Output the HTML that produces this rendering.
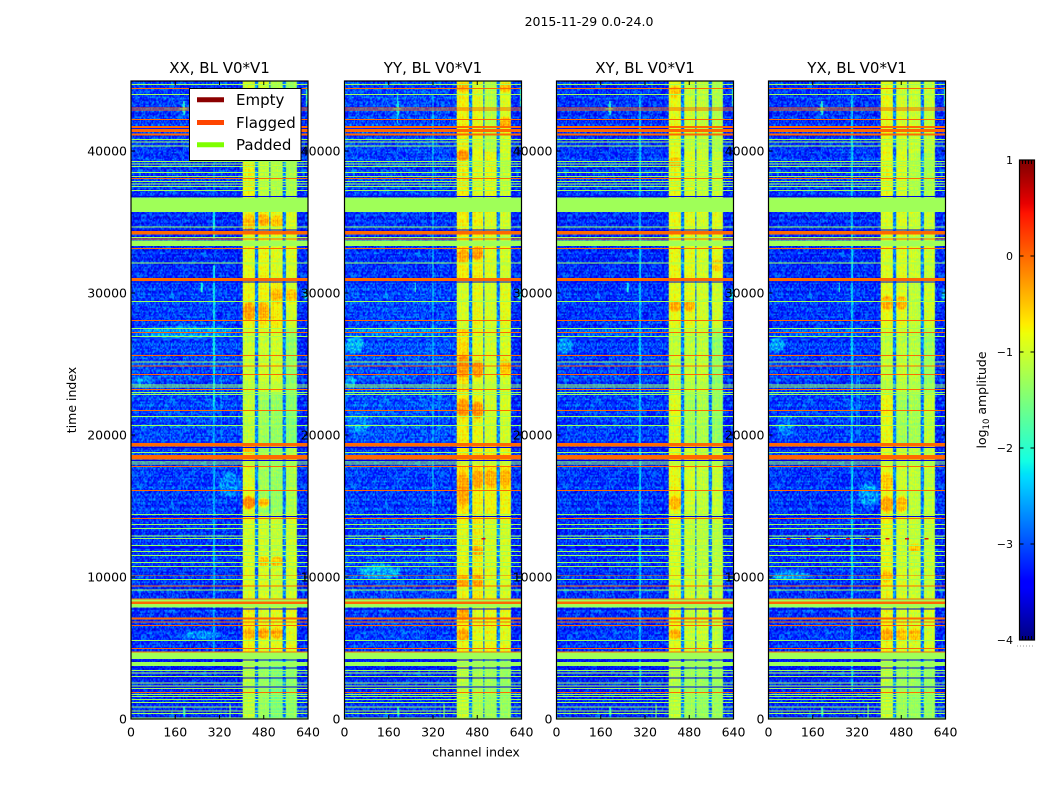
<!DOCTYPE html>
<html>
<head>
<meta charset="utf-8">
<title>2015-11-29 0.0-24.0</title>
<style>
html,body{margin:0;padding:0;background:#fff;width:1050px;height:800px;overflow:hidden}
#stage{position:relative;width:1050px;height:800px;background:#fff}
#stage canvas{position:absolute;display:block}
#overlay{position:absolute;left:0;top:0}
text{font-family:"DejaVu Sans","Liberation Sans",sans-serif;fill:#000}
</style>
</head>
<body>
<div id="stage">
<svg id="overlay" width="1050" height="800" viewBox="0 0 1050 800"></svg>
</div>
<script>
// ---------- chart data (time index / channel index / log10 amplitude) ----------
const panelTitles = ["XX, BL V0*V1", "YY, BL V0*V1", "XY, BL V0*V1", "YX, BL V0*V1"];
const xTicks = [0, 160, 320, 480, 640];
const yTicks = [0, 10000, 20000, 30000, 40000];
const colorbarTicks = [-4, -3, -2, -1, 0, 1];
const legendLabels = ["Empty", "Flagged", "Padded"];
const legendColors = ["#8b0000", "#ff4500", "#7fff00"];

const flaggedLevel = 0;
const paddedLevel = -1.285;
const timeMax = 44930;
const channelMax = 640;

// flagged rows: [centre time, width]
const flaggedRows = [[44400,70],[43030,70],[42890,70],[42220,70],[41689,140],[41442,230],[41146,140],[38048,70],
[34245,230],[33802,70],[33147,70],[30950,210],[28076,70],[27203,70],[25612,70],[24858,70],[24274,70],[23217,70],
[21739,70],[19316,230],[18436,300],[17795,70],[16105,70],[14119,70],[10119,50],[9366,70],[8465,70],[8190,150],
[7091,140],[6831,70],[6598,70],[4979,70],[4718,70],[1880,70]];
// padded blocks: [start time, end time]
const paddedBlocks = [[35700,36740],[33310,33680],[8290,8430],[7840,8100],[4225,4670],[3750,4015],[0,90]];
// padded single rows: centre time
const paddedLines = [44700,43990,40823,40632,40351,39273,39083,38893,38499,38189,37837,37675,37485,37231,34647,33921,
32112,29414,27513,26950,25140,23520,23379,23006,22837,21316,20682,18781,18098,17957,14387,13711,13401,12887,12725,
12232,11809,11528,11035,10753,9838,9084,5542,3429,3239,3007,2535,2324,2134,1711,1570,1359,1176,845,563,373];
// low rows: centre time
const darkRows = [36810,34420,30780,19120,18190,14260,7740,4150,3600,2900,2240];

// time segments and channel segments
const timeEdges = [0,4700,8000,14500,19400,23000,27500,31000,36000,40000,44930];
const bandChannels = [[405,448],[459,499],[506,550],[559,600]];
const gapChannels = [[448,459],[499,506],[550,559]];
const gapLevel = -2.75;
const rightLevel = -3.2;

// band amplitude per time segment, per polarisation
const bandLevelsXX = [[-1.1,-1.35,-1.55,-1.4],[-.8,-.95,-.9,-.9],[-.95,-1,-1.05,-1],[-.95,-1.3,-1.35,-1.2],[-1.1,-1.3,-1.35,-1.45],[-1.05,-1.05,-1,-1.35],[-.85,-.8,-.75,-1],[-.9,-.85,-.95,-.95],[-.8,-1.1,-1.15,-1.2],[-1,-1,-1.2,-1.3]];
const bandLevelsYY = [[-1.05,-1.2,-1.3,-1.35],[-.85,-.9,-.85,-.9],[-.85,-.75,-.95,-.95],[-.7,-.75,-.8,-.8],[-.75,-.85,-1,-1],[-.65,-.9,-1,-.95],[-1,-.85,-1,-.9],[-.75,-.8,-.95,-1],[-.75,-.9,-.85,-1.05],[-.8,-.9,-1.15,-.95]];
const bandLevelsXY = [[-1.1,-1.3,-1.35,-1.3],[-.9,-1.05,-1.05,-1.1],[-.95,-1.05,-1.1,-1.1],[-.85,-1,-1.1,-1.05],[-.95,-1.25,-1.2,-1.35],[-1.1,-1.1,-1.1,-1.35],[-.9,-.9,-1,-1],[-.85,-.9,-1,-.9],[-.85,-.95,-1.05,-1.05],[-.9,-1.05,-1.1,-1.2]];
const bandLevelsYX = [[-1.05,-1.3,-1.35,-1.35],[-.85,-.95,-1,-1],[-.85,-1,-1.05,-1.05],[-.9,-1.05,-1.1,-1.1],[-.85,-1.25,-1.25,-1.1],[-1.1,-1.1,-1.15,-1.3],[-.9,-.95,-1.1,-1],[-.95,-.95,-1.05,-1.05],[-.85,-.95,-1.15,-1.2],[-.9,-1,-1.05,-1.1]];

// off-band background per time segment
const backgroundXX = [-3.25,-3.15,-3.15,-3.1,-3.05,-3.05,-3.1,-3.2,-3.15,-3.1];
const backgroundYY = [-3.2,-3.1,-3.05,-3.1,-3,-3,-3.05,-3.15,-3.1,-3.05];
const backgroundXY = [-3.25,-3.15,-3.15,-3.15,-3.1,-3.1,-3.15,-3.2,-3.15,-3.15];
const backgroundYX = [-3.25,-3.15,-3.15,-3.15,-3.1,-3.1,-3.15,-3.2,-3.15,-3.15];

// hot patches: [band, start time, end time, level]
const hotXX = [[0,28000,29500,-.35],[1,28000,29500,-.4],[2,29300,30400,-.45],[3,29300,30400,-.5],[0,14750,15800,-.2],[1,14900,15600,-.45],[0,34300,35700,-.45],[1,34700,35700,-.4],[2,34600,35600,-.5],[0,5600,6500,-.4],[1,5600,6500,-.35],[2,5600,6500,-.4],[0,18700,19300,-.4],[1,10700,11500,-.5],[2,10700,11500,-.5]];
const hotYY = [[0,32100,33200,-.35],[1,32300,33400,-.3],[0,24000,25800,-.25],[1,24000,25400,-.3],[3,24100,25500,-.5],[0,21200,22700,-.3],[1,21100,22500,-.25],[0,39300,40200,-.25],[3,41600,42500,-.4],[0,44200,44900,-.4],[3,44200,44900,-.4],[0,14800,17700,-.35],[1,16200,17700,-.35],[2,16200,17700,-.4],[3,16200,17700,-.4],[1,11500,12300,-.35],[0,9300,10200,-.35],[1,9300,10200,-.35],[0,6900,7900,-.35],[0,5400,6500,-.35]];
const hotXY = [[0,28700,29600,-.4],[1,28700,29600,-.4],[0,14700,15800,-.45],[0,5600,6400,-.4],[0,38800,39700,-.5],[0,43800,44700,-.5],[3,31500,32500,-.55]];
const hotYX = [[0,28800,29900,-.4],[1,28800,29900,-.4],[0,14500,15800,-.35],[1,14500,15800,-.45],[0,5400,6500,-.35],[1,5400,6500,-.5],[2,5400,6500,-.5],[0,16100,17500,-.55],[2,11700,12400,-.5],[0,9600,10500,-.5]];

// background patches: [channel start, channel end, start time, end time, level]
const patchesCommon = [[185,197,42500,43700,-2.1],[170,210,42960,43080,-1.9],[188,194,42950,43100,-.7],[188,196,0,1000,-2.1],[355,362,0,1100,-1.7],[622,640,29500,30400,-2.5],[630,640,43100,44700,-2]];
const patchesXX = [[0,400,26750,27800,-2.65],[170,345,5600,6200,-2.75],[310,405,15500,17500,-2.75],[0,90,23300,24200,-2.75]];
const patchesYY = [[0,70,25700,27100,-2.45],[0,400,27050,27600,-2.7],[0,40,23300,24200,-2.6],[40,210,9800,11000,-2.5],[0,100,20000,21800,-2.7]];
const patchesXY = [[0,60,25700,27000,-2.6],[0,400,27050,27500,-2.85]];
const patchesYX = [[0,60,25800,27000,-2.55],[0,160,9700,10500,-2.6],[320,405,14800,16800,-2.65],[0,400,27050,27500,-2.85],[20,100,19800,21700,-2.8]];

// vertical interference: [channel, start time, end time, level]
const vlinesXX = [[300,4000,22000,-2.55],[300,22000,32000,-2.25],[300,33900,36000,-2.1],[300,36800,44000,-2.85],[326,19800,24800,-2.65],[256,30100,30800,-2.1]];
const vlinesYY = [[319,15000,44000,-2.35],[319,9000,15000,-2.7],[340,19900,24800,-2.75],[30,23000,24000,-2.6],[190,42000,44200,-2.2],[254,30100,30800,-2.1]];
const vlinesXY = [[300,2000,44000,-2.45],[256,30100,30800,-2.2]];
const vlinesYX = [[300,2000,44000,-2.4],[318,19900,24900,-2.6],[326,19900,24900,-2.65],[254,30100,30800,-2.2]];

// short narrow-band bursts drawn in red: channel at a row
const burstTime = 12725;
const burstsYY = [140,282,500];
const burstsYX = [71,142,213,285,356,428,499,570];

// fine speckle residuals read as typical pixel scatter (log amplitude)
const speckle = [.28,-.31,.12,-.42,.35,.05,-.18,.44,-.27,.16,-.06,.31,-.38,.22,-.12,.4,-.33,.08,.26,-.22,-.45,.18,.37,-.09,.03,-.29,.33,-.16,.1,.47,-.36,-.02,.2,-.25,.42,-.13,-.4];
const rowShade = [.05,-.12,.08,.14,-.06,-.18,.02,.1,-.09,.17,-.03,-.14,.06,.12,-.1,.03,-.16,.09,.15,-.07,.01,-.11,.13,-.04,.07,-.15,.11,-.02,.04];
const channelRipple = [.12,-.08,.05,-.15,.1,.02,-.1,.15,-.05,.07,-.12];

const panelData = [
  {band:bandLevelsXX,bg:backgroundXX,hot:hotXX,patches:patchesXX,vlines:vlinesXX,bursts:[]},
  {band:bandLevelsYY,bg:backgroundYY,hot:hotYY,patches:patchesYY,vlines:vlinesYY,bursts:burstsYY},
  {band:bandLevelsXY,bg:backgroundXY,hot:hotXY,patches:patchesXY,vlines:vlinesXY,bursts:[]},
  {band:bandLevelsYX,bg:backgroundYX,hot:hotYX,patches:patchesYX,vlines:vlinesYX,bursts:burstsYX}
];

// ---------- layout ----------
const panelLefts = [131, 344.5, 556.5, 768.5];
const panelWidth = 177;
const plotTop = 81;
const plotBottom = 719;
const cbLeft = 1019.5, cbRight = 1034.5, cbTop = 160, cbBottom = 640;
const channelStep = 4, timeStep = 100;

const NS = "http://www.w3.org/2000/svg";
const svg = document.getElementById("overlay");
const stage = document.getElementById("stage");

function xScale(p, ch){ return panelLefts[p] + ch / channelMax * panelWidth; }
function yScale(t){ return plotBottom - t / timeMax * (plotBottom - plotTop); }
function cbScale(v){ return cbBottom - (v + 4) / 5 * (cbBottom - cbTop); }

function interp(stops, v){
  if (v <= stops[0][0]) return stops[0][1];
  for (let i = 1; i < stops.length; i++){
    if (v <= stops[i][0]){
      const a = stops[i-1], b = stops[i];
      return a[1] + (b[1]-a[1]) * (v-a[0]) / (b[0]-a[0]);
    }
  }
  return stops[stops.length-1][1];
}
const jetR = [[0,0],[.35,0],[.66,1],[.89,1],[1,.5]];
const jetG = [[0,0],[.125,0],[.375,1],[.64,1],[.91,0],[1,0]];
const jetB = [[0,.5],[.11,1],[.34,1],[.65,0],[1,0]];
function jetRGB(level){
  const n = Math.max(0, Math.min(1, (level + 4) / 5));
  return [Math.round(interp(jetR,n)*255), Math.round(interp(jetG,n)*255), Math.round(interp(jetB,n)*255)];
}
function jetCss(level){ const c = jetRGB(level); return "rgb("+c[0]+","+c[1]+","+c[2]+")"; }

function segmentOf(t){
  for (let s = 0; s < timeEdges.length - 1; s++) if (t < timeEdges[s+1]) return s;
  return timeEdges.length - 2;
}

// soft elliptical weight so patches fade into their surroundings
function softWeight(c0, c1, t0, t1, ch, t){
  const u = (ch - (c0+c1)/2) / ((c1-c0)/2 || 1);
  const w = (t - (t0+t1)/2) / ((t1-t0)/2 || 1);
  const r = u*u + w*w;
  return Math.max(0, Math.min(1, (1-r)*2.2));
}

function cellValue(d, ch, t, i, j){
  const s = segmentOf(t);
  const n = speckle[(i*7 + j*13 + ((i*j)>>2)) % speckle.length];
  const shade = rowShade[j % rowShade.length];
  let inBand = -1;
  for (let b = 0; b < bandChannels.length; b++) if (ch >= bandChannels[b][0] && ch < bandChannels[b][1]) inBand = b;
  let inGap = false;
  for (const g of gapChannels) if (ch >= g[0] && ch < g[1]) inGap = true;
  if (inBand >= 0){
    let v = d.band[s][inBand];
    for (const h of d.hot){
      if (h[0] !== inBand) continue;
      const bc = bandChannels[inBand];
      const wgt = softWeight(bc[0]-6, bc[1]+6, h[1], h[2], ch, t);
      if (wgt > 0) v = v + (h[3]-v)*wgt;
    }
    return v + n*0.42 + shade*0.6 + channelRipple[i % channelRipple.length];
  }
  if (inGap) return gapLevel + n*0.9;
  let v = ch >= 600 ? rightLevel : d.bg[s];
  const applyPatch = function(p){
    const wgt = softWeight(p[0], p[1], p[2], p[3], ch, t);
    if (wgt > 0) v = v + (p[4]-v)*wgt;
  };
  patchesCommon.forEach(applyPatch);
  d.patches.forEach(applyPatch);
  let noise = n + shade;
  for (const l of d.vlines){
    if (Math.abs(ch - l[0]) <= channelStep/2 && t >= l[1] && t < l[2]){ v = l[3]; noise = n*0.6; }
  }
  return v + noise;
}

function addText(str, x, y, size, anchor, name){
  const el = document.createElementNS(NS, "text");
  el.setAttribute("x", x);
  el.setAttribute("y", y);
  el.setAttribute("font-size", size);
  el.setAttribute("text-anchor", anchor);
  
  
  el.textContent = str;
  svg.appendChild(el);
  return el;
}
function addRect(parent, x, y, w, h, fill){
  const el = document.createElementNS(NS, "rect");
  el.setAttribute("x", x);
  el.setAttribute("y", y);
  el.setAttribute("width", w);
  el.setAttribute("height", h);
  el.setAttribute("fill", fill);
  parent.appendChild(el);
  return el;
}
function addLine(parent, x1, y1, x2, y2, color, width){
  const el = document.createElementNS(NS, "line");
  el.setAttribute("x1", x1);
  el.setAttribute("y1", y1);
  el.setAttribute("x2", x2);
  el.setAttribute("y2", y2);
  el.setAttribute("stroke", color);
  el.setAttribute("stroke-width", width);
  parent.appendChild(el);
  return el;
}

// ---------- panels ----------
panelTitles.forEach(function(title, p){
  const d = panelData[p];
  const cols = Math.ceil(channelMax / channelStep);
  const rows = Math.ceil(timeMax / timeStep);

  const canvas = document.createElement("canvas");
  
  
  canvas.width = cols;
  canvas.height = rows;
  canvas.style.left = xScale(p,0) + "px";
  canvas.style.top = yScale(timeMax) + "px";
  canvas.style.width = panelWidth + "px";
  canvas.style.height = (yScale(0) - yScale(timeMax)) + "px";
  stage.insertBefore(canvas, svg);
  const ctx = canvas.getContext("2d");
  const img = ctx.createImageData(cols, rows);
  for (let j = 0; j < rows; j++){
    for (let i = 0; i < cols; i++){
      const c = jetRGB(cellValue(d, (i+.5)*channelStep, (j+.5)*timeStep, i, j));
      const o = ((rows-1-j)*cols + i) * 4;
      img.data[o] = c[0];
      img.data[o+1] = c[1];
      img.data[o+2] = c[2];
      img.data[o+3] = 255;
    }
  }
  ctx.putImageData(img, 0, 0);

  const g = document.createElementNS(NS, "g");
  
  
  g.setAttribute("shape-rendering", "crispEdges");
  svg.appendChild(g);

  const x0 = xScale(p,0), w = panelWidth;
  darkRows.forEach(function(t){
    const el = addRect(g, x0, yScale(t)-.5, w, 1, jetCss(-3.55));
    
    
  });
  paddedLines.forEach(function(t){
    const el = addRect(g, x0, yScale(t+35), w, yScale(t-35)-yScale(t+35), jetCss(paddedLevel));
    
    
  });
  paddedBlocks.forEach(function(b){
    const el = addRect(g, x0, yScale(b[1]), w, yScale(b[0])-yScale(b[1]), jetCss(paddedLevel));
    
    
  });
  flaggedRows.forEach(function(r){
    const top = yScale(r[0]+r[1]/2), bot = yScale(r[0]-r[1]/2);
    const el = addRect(g, x0, top, w, bot-top, jetCss(flaggedLevel));
    
    
  });
  d.bursts.forEach(function(ch){
    const el = addRect(g, xScale(p,ch)-1.5, yScale(burstTime)-.5, 4, 1.5, "#e01010");
    
    
  });
});

// frames, ticks and labels are drawn panel by panel so later labels overlap earlier axes
function drawLegend(){
  const g = document.createElementNS(NS, "g");
  
  
  svg.appendChild(g);
  const box = addRect(g, 189.5, 88.5, 111.5, 72, "#fff");
  box.setAttribute("stroke", "#000");
  box.setAttribute("stroke-width", "1");
  
  
  const ys = [99.7, 122.5, 144.8];
  legendLabels.forEach(function(label, i){
    const ln = addLine(g, 197, ys[i], 224, ys[i], legendColors[i], 5);
    
    
    const t = addText(label, 236, ys[i] + 5.3, 15, "start", "legend-label-" + label.toLowerCase());
    g.appendChild(t);
  });
}

panelTitles.forEach(function(title, p){
  const x0 = xScale(p,0), x1 = xScale(p,channelMax);
  const frame = addRect(svg, x0, plotTop, panelWidth, plotBottom-plotTop, "none");
  frame.setAttribute("stroke", "#000");
  frame.setAttribute("stroke-width", "1.2");
  
  

  xTicks.forEach(function(v){
    const x = xScale(p,v);
    const a = addLine(svg, x, plotBottom, x, plotBottom-4, "#000", 1);
    
    
    const b = addLine(svg, x, plotTop, x, plotTop+4, "#000", 1);
    
    
    addText(String(v), x, 736.5, 12.5, "middle", "x-tick-label");
  });
  yTicks.forEach(function(v){
    const y = yScale(v);
    const a = addLine(svg, x0, y, x0+4, y, "#000", 1);
    
    
    const b = addLine(svg, x1, y, x1-4, y, "#000", 1);
    
    
    addText(String(v), x0-4, y+4.5, 12.5, "end", "y-tick-label");
  });
  addText(title, (x0+x1)/2, 73, 15, "middle", "panel-title-" + (p+1));
  if (p === 0) drawLegend();
});

addText("2015-11-29 0.0-24.0", 589, 26, 12.5, "middle", "figure-title");
addText("channel index", 476, 756.5, 12.5, "middle", "x-axis-title");
const yTitle = addText("time index", 0, 0, 12.5, "middle", "y-axis-title");
yTitle.setAttribute("transform", "translate(76,400) rotate(-90)");

// ---------- colour bar ----------
const cb = document.createElementNS(NS, "g");


cb.setAttribute("shape-rendering", "crispEdges");
svg.appendChild(cb);
const cbSteps = 240;
for (let k = 0; k < cbSteps; k++){
  const lo = -4 + 5*k/cbSteps, hi = -4 + 5*(k+1)/cbSteps;
  const el = addRect(cb, cbLeft, cbScale(hi), cbRight-cbLeft, cbScale(lo)-cbScale(hi)+.5, jetCss((lo+hi)/2));
  
  
}
const cbFrame = addRect(svg, cbLeft, cbTop, cbRight-cbLeft, cbBottom-cbTop, "none");
cbFrame.setAttribute("stroke", "#000");
cbFrame.setAttribute("stroke-width", "1.2");


colorbarTicks.forEach(function(v){
  const y = cbScale(v);
  const a = addLine(svg, cbLeft, y, cbLeft+4, y, "#000", 1);
  
  
  const b = addLine(svg, cbRight, y, cbRight-4, y, "#000", 1);
  
  
  const label = (v < 0 ? "\u2212" + Math.abs(v) : String(v));
  addText(label, 1013, y+4, 11, "end", "colorbar-tick-label");
});
[1,2,3,4].forEach(function(k){
  const x = cbLeft + k*3;
  const a = addLine(svg, x, cbTop, x, cbTop+4, "#000", 1);
  
  
  const b = addLine(svg, x, cbBottom, x, cbBottom-4, "#000", 1);
  
  
});
const cbDots = addLine(svg, 1017, 646, 1035, 646, "#999", 1);
cbDots.setAttribute("stroke-dasharray", "1 2");



const cbTitle = document.createElementNS(NS, "text");
cbTitle.setAttribute("font-size", "12.5");
cbTitle.setAttribute("text-anchor", "middle");
cbTitle.setAttribute("transform", "translate(986,400) rotate(-90)");


const t1 = document.createElementNS(NS, "tspan");
t1.textContent = "log";
cbTitle.appendChild(t1);
const t2 = document.createElementNS(NS, "tspan");
t2.setAttribute("font-size", "8.5");
t2.setAttribute("dy", "3");
t2.textContent = "10";
cbTitle.appendChild(t2);
const t3 = document.createElementNS(NS, "tspan");
t3.setAttribute("dy", "-3");
t3.textContent = " amplitude";
cbTitle.appendChild(t3);
svg.appendChild(cbTitle);
</script>
</body>
</html>
